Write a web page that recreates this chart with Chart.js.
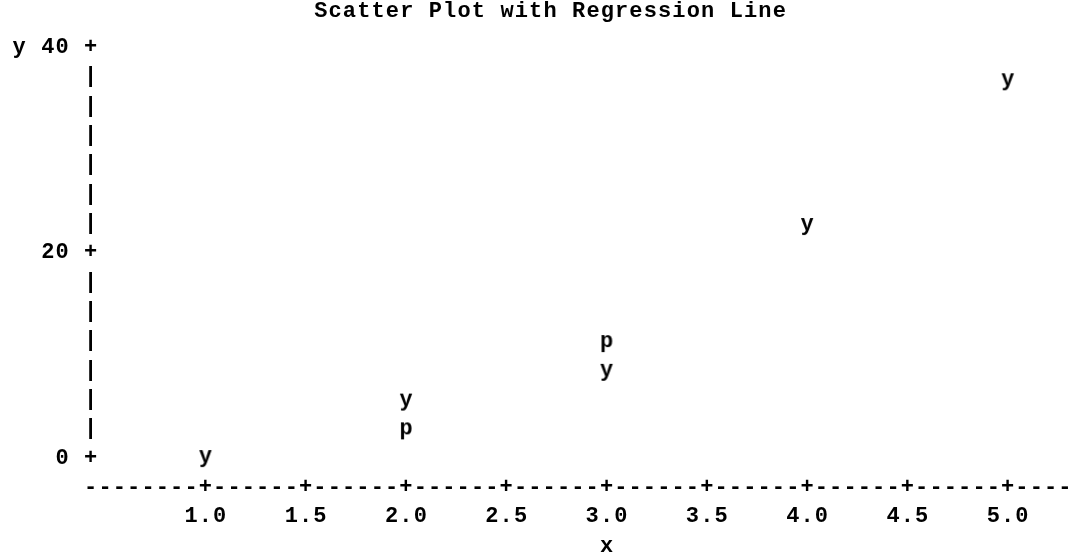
<!DOCTYPE html>
<html>
<head>
<meta charset="utf-8">
<script src="https://cdn.jsdelivr.net/npm/chart.js@4.4.1/dist/chart.umd.min.js"></script>
<style>
    html, body { margin: 0; background: #fff; }
</style>
</head>
<body>
<canvas id="grafico" width="1070" height="554"></canvas>
<script>
// Datos
var valoresX = [1, 2, 3, 4, 5];
var valoresY = [0.2, 5.7, 8.6, 22.8, 36.9];
var valoresP = [null, 2.9, 11.4, null, null];
var ticksX = [1.0, 1.5, 2.0, 2.5, 3.0, 3.5, 4.0, 4.5, 5.0];
var ticksY = [0, 20, 40];
var filasPorTick = 7;
var titulo = "Scatter Plot with Regression Line";
var etiquetaX = "x";
var etiquetaY = "y";

var FUENTE = "bold 22px 'Liberation Mono', 'DejaVu Sans Mono', monospace";

// Letra como símbolo del punto
function simbolo(letra) {
    var c = document.createElement("canvas");
    c.width = 16;
    c.height = 28;
    var g = c.getContext("2d");
    g.font = FUENTE;
    g.fillStyle = "#000";
    g.textAlign = "center";
    g.textBaseline = "middle";
    g.fillText(letra, 8, 14);
    return c;
}

// Escribe carácter a carácter con paso fijo (estilo impresora)
function texto(ctx, str, x, y, paso) {
    for (var i = 0; i < str.length; i++) {
        ctx.fillText(str[i], x + i * paso, y);
    }
}

var ejesTexto = {
    id: "ejesTexto",
    afterDraw: function (chart) {
        var ctx = chart.ctx;
        var sx = chart.scales.x;
        var sy = chart.scales.y;
        var area = chart.chartArea;
        var paso = (sx.getPixelForValue(ticksX[1]) - sx.getPixelForValue(ticksX[0])) / filasPorTick;
        var pasoY = (ticksY[1] - ticksY[0]) / filasPorTick;
        var fila = sy.getPixelForValue(0) - sy.getPixelForValue(pasoY);
        var x1 = sx.getPixelForValue(ticksX[0]);
        var ejeV = x1 - 8 * paso;
        var y0 = sy.getPixelForValue(ticksY[0]);
        var filaEje = y0 + fila;

        ctx.save();
        ctx.font = FUENTE;
        ctx.fillStyle = "#000";
        ctx.textAlign = "center";
        ctx.textBaseline = "middle";

        // título
        texto(ctx, titulo, 550 - (titulo.length - 1) * paso / 2, 11, paso);

        // eje vertical
        var nFilas = (ticksY[ticksY.length - 1] - ticksY[0]) / pasoY;
        for (var k = 0; k <= Math.round(nFilas); k++) {
            var v = ticksY[0] + k * pasoY;
            ctx.fillText(k % filasPorTick === 0 ? "+" : "|", ejeV, sy.getPixelForValue(v));
        }
        ticksY.forEach(function (t) {
            var s = String(t);
            texto(ctx, s, ejeV - (s.length + 1) * paso, sy.getPixelForValue(t), paso);
        });
        var topeY = ticksY[ticksY.length - 1];
        ctx.fillText(etiquetaY, ejeV - 5 * paso, sy.getPixelForValue(topeY));

        // eje horizontal
        var ultimo = (ticksX.length - 1) * filasPorTick;
        for (var j = -8; x1 + j * paso < chart.width + paso; j++) {
            var esTick = j >= 0 && j <= ultimo && j % filasPorTick === 0;
            ctx.fillText(esTick ? "+" : "-", x1 + j * paso, filaEje);
        }
        ticksX.forEach(function (t) {
            var s = t.toFixed(1);
            texto(ctx, s, sx.getPixelForValue(t) - (s.length - 1) * paso / 2, filaEje + fila, paso);
        });
        ctx.fillText(etiquetaX, sx.getPixelForValue(3), filaEje + 2 * fila);
        ctx.restore();
    }
};

var ctx = document.getElementById("grafico").getContext("2d");
var grafico = new Chart(ctx, {
    type: "scatter",
    data: {
        datasets: [
            {
                label: "y",
                data: valoresX.map(function (x, i) { return { x: x, y: valoresY[i] }; }),
                pointStyle: simbolo("y"),
            },
            {
                label: "p",
                data: valoresX.map(function (x, i) { return { x: x, y: valoresP[i] }; }),
                pointStyle: simbolo("p"),
            },
        ],
    },
    options: {
        responsive: false,
        animation: false,
        devicePixelRatio: 1,
        layout: { padding: { left: 88, right: 0, top: 31, bottom: 63 } },
        scales: {
            x: { type: "linear", display: false, min: 0.415, max: 5.286 },
            y: { type: "linear", display: false, min: -3.2, max: 41.6 },
        },
        plugins: {
            legend: { display: false },
            tooltip: { enabled: false },
        },
    },
    plugins: [ejesTexto],
});
</script>
</body>
</html>
